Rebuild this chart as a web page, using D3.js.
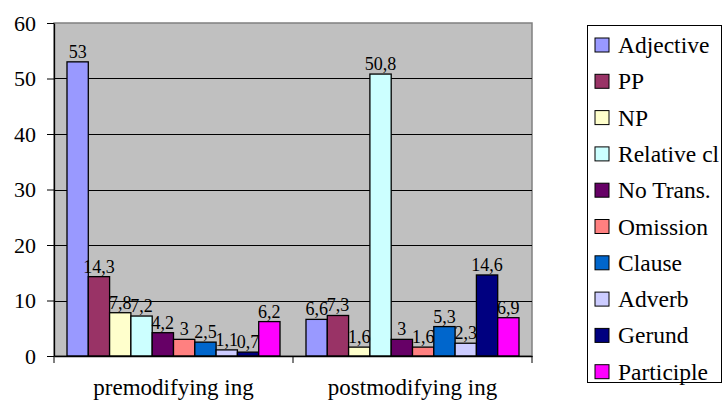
<!DOCTYPE html>
<html>
<head>
<meta charset="utf-8">
<script src="https://cdn.jsdelivr.net/npm/d3@7"></script>
</head>
<body style="margin:0">
<script>
// Data
const categories = ["premodifying ing", "postmodifying ing"];
const seriesNames = ["Adjective", "PP", "NP", "Relative cl", "No Trans.", "Omission", "Clause", "Adverb", "Gerund", "Participle"];
const premodifying = [53, 14.3, 7.8, 7.2, 4.2, 3, 2.5, 1.1, 0.7, 6.2];
const postmodifying = [6.6, 7.3, 1.6, 50.8, 3, 1.6, 5.3, 2.3, 14.6, 6.9];
const yTicks = [0, 10, 20, 30, 40, 50, 60];
const colors = ["#9999FF", "#993366", "#FFFFCC", "#CCFFFF", "#660066", "#FF8080", "#0066CC", "#CCCCFF", "#000080", "#FF00FF"];

const W = 722, H = 403;
const plot = {left: 54, right: 532, top: 23, bottom: 356};

const svg = d3.select("body")
  .append("svg")
  .attr("width", W)
  .attr("height", H)
  .attr("font-family", "Liberation Serif");

// apply the serif face to every text we make
function serif(sel, size) {
  sel.attr("font-family", "Liberation Serif")
    .attr("font-size", size)
    .style("font-family", "'Liberation Serif'")
    .style("font-size", size + "px");
}

const rows = [premodifying, postmodifying];
const data = categories.map((cat, ci) =>
  seriesNames.map((s, si) => ({cat, series: s, value: rows[ci][si]}))
);

const xScale = d3.scaleBand()
  .domain(categories)
  .range([plot.left, plot.right])
  .padding(0);

const xSub = d3.scaleBand()
  .domain(seriesNames)
  .range([0, xScale.bandwidth()])
  .paddingInner(0)
  .paddingOuter(0.61);

const yScale = d3.scaleLinear()
  .domain([0, 60])
  .range([plot.bottom, plot.top]);

const color = d3.scaleOrdinal().domain(seriesNames).range(colors);

const fmt = d3.formatLocale({decimal: ",", thousands: ".", grouping: [3], currency: ["", ""]}).format("~g");

// Plot background
svg.append("rect")
  .attr("x", plot.left)
  .attr("y", plot.top)
  .attr("width", plot.right - plot.left)
  .attr("height", plot.bottom - plot.top)
  .attr("fill", "#C0C0C0")
  .attr("stroke", "#808080")
  .attr("stroke-width", 1.5);

// Gridlines
svg.append("g")
  .selectAll("line")
  .data(yTicks.filter(t => t > 0 && t < 60))
  .join("line")
  .attr("x1", plot.left)
  .attr("x2", plot.right)
  .attr("y1", d => Math.round(yScale(d)) + 0.5)
  .attr("y2", d => Math.round(yScale(d)) + 0.5)
  .attr("stroke", "#000")
  .attr("stroke-width", 1);

// Bars
const groups = svg.append("g")
  .selectAll("g")
  .data(data)
  .join("g")
  .attr("transform", d => `translate(${xScale(d[0].cat)},0)`);

groups.selectAll("rect")
  .data(d => d)
  .join("rect")
  .attr("x", d => xSub(d.series))
  .attr("y", d => yScale(d.value))
  .attr("width", xSub.bandwidth())
  .attr("height", d => yScale(0) - yScale(d.value))
  .attr("fill", d => color(d.series))
  .attr("stroke", "#000")
  .attr("stroke-width", 1.3);

// Value labels
groups.selectAll("text")
  .data(d => d)
  .join("text")
  .attr("x", d => xSub(d.series) + xSub.bandwidth() / 2)
  .attr("y", d => yScale(d.value) - 4)
  .attr("text-anchor", "middle")
  .call(serif, 18)
  .text(d => fmt(d.value));

// Y axis
const yAxis = d3.axisLeft(yScale)
  .tickValues(yTicks)
  .tickSize(7)
  .tickPadding(11)
  .tickSizeOuter(0);

svg.append("g")
  .attr("transform", `translate(${plot.left},0)`)
  .call(yAxis)
  .attr("font-family", "Liberation Serif")
  .call(g => g.select(".domain").attr("stroke", "#000").attr("stroke-width", 1.3))
  .call(g => g.selectAll("line").attr("stroke", "#000"))
  .call(g => g.selectAll("text").call(serif, 22).attr("fill", "#000"));

// X axis
const xAxis = d3.axisBottom(xScale).tickSize(0).tickSizeOuter(0).tickPadding(23);
svg.append("g")
  .attr("transform", `translate(0,${plot.bottom})`)
  .call(xAxis)
  .attr("font-family", "Liberation Serif")
  .call(g => g.select(".domain").attr("stroke", "#000").attr("stroke-width", 1.3))
  .call(g => g.selectAll("text").call(serif, 23).attr("fill", "#000"));

// Category separators on x axis
svg.append("g")
  .selectAll("line")
  .data(categories.concat(["end"]))
  .join("line")
  .attr("x1", d => d === "end" ? plot.right : xScale(d))
  .attr("x2", d => d === "end" ? plot.right : xScale(d))
  .attr("y1", plot.bottom)
  .attr("y2", plot.bottom + 7)
  .attr("stroke", "#000")
  .attr("stroke-width", 1);

// Legend
const legend = svg.append("g").attr("transform", "translate(587,25)");
legend.append("rect")
  .attr("x", 0.5)
  .attr("y", 0.5)
  .attr("width", 134)
  .attr("height", 357)
  .attr("fill", "#fff")
  .attr("stroke", "#000")
  .attr("stroke-width", 1);

const legendRow = legend.selectAll("g.row")
  .data(seriesNames)
  .join("g")
  .attr("class", "row")
  .attr("transform", (_, i) => `translate(0,${20 + i * 36.3})`);

legendRow.append("rect")
  .attr("x", 8)
  .attr("y", -7)
  .attr("width", 14)
  .attr("height", 14)
  .attr("fill", d => color(d))
  .attr("stroke", "#000")
  .attr("stroke-width", 1);

legendRow.append("text")
  .attr("x", 31)
  .attr("y", 8)
  .call(serif, 23.5)
  .text(d => d);
</script>
</body>
</html>
